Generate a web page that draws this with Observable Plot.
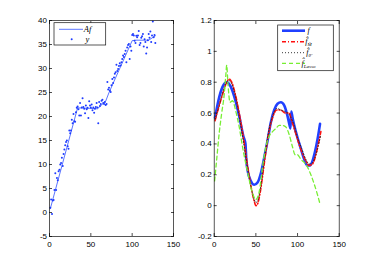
<!DOCTYPE html>
<html><head><meta charset="utf-8">
<script src="https://cdn.jsdelivr.net/npm/d3@7"></script>
<script src="https://cdn.jsdelivr.net/npm/@observablehq/plot@0.6"></script>
<style>
body{margin:0;background:#fff;}
#wrap{position:relative;width:374px;height:266px;overflow:hidden;background:#fff;}
#wrap svg{position:absolute;top:0;}
</style></head><body><div id="wrap"></div>
<script>
// ---------- Left panel data ----------
const xTicks = [0, 50, 100, 150];
const leftYTicks = [-5, 0, 5, 10, 15, 20, 25, 30, 35, 40];
const afX = [1, 34, 48, 58, 68, 72, 100, 104, 120, 128];
const afY = [0.8, 21.8, 21.7, 21.6, 23.2, 25.0, 35.8, 35.9, 35.9, 36.8];
const obsX = [1,2,3,4,5,6,7,8,9,10,11,12,13,14,15,16,17,18,19,20,21,22,23,24,25,26,27,28,29,30,31,32,33,34,35,36,37,38,39,40,41,42,43,44,45,46,47,48,49,50,51,52,53,54,55,56,57,58,59,60,61,62,63,64,65,66,67,68,69,70,71,72,73,74,75,76,77,78,79,80,81,82,83,84,85,86,87,88,89,90,91,92,93,94,95,96,97,98,99,100,101,102,103,104,105,106,107,108,109,110,111,112,113,114,115,116,117,118,119,120,121,122,123,124,125,126,127,128];
const obsY = [1.0,2.7,-0.3,2.5,2.6,4.7,8.2,4.7,7.2,6.7,8.6,8.9,10.0,10.3,11.4,9.7,12.2,13.1,14.0,14.7,15.0,13.8,13.3,17.1,16.5,17.1,19.3,18.6,20.5,19.0,18.9,20.9,21.8,22.1,21.5,20.2,22.8,20.2,21.9,23.8,22.0,21.6,20.7,22.3,21.5,21.8,19.7,23.2,22.3,21.9,22.5,21.3,21.9,20.8,21.6,22.0,22.8,21.9,18.6,23.0,22.2,22.6,23.3,23.5,22.8,22.6,23.0,22.4,22.6,27.2,25.6,26.0,25.4,25.1,26.5,27.8,27.0,28.1,28.9,29.2,30.8,29.5,29.9,30.5,31.1,30.6,31.3,32.0,32.7,32.4,33.0,33.7,31.3,34.4,34.9,35.1,32.0,34.6,33.7,37.0,37.2,36.9,35.8,35.3,36.8,36.5,36.9,37.8,34.9,35.3,36.4,36.7,37.2,34.6,36.1,35.5,33.1,34.4,35.9,37.2,36.4,37.7,35.5,36.9,39.8,36.5,37.0,35.3];

// ---------- Right panel data ----------
const rightYTicks = [-0.2, 0, 0.2, 0.4, 0.6, 0.8, 1, 1.2];
const fX = [1,5,10,15,20,25,30,35,37.5,38.5,40,44,48,52,56,60,64,68,72,76,80,84,88,90.5,91.5,92.5,94,96,100,104,108,112,115,118,121,124,127];
const fY = [0.57,0.68,0.77,0.80,0.77,0.69,0.58,0.45,0.40,0.30,0.23,0.16,0.135,0.15,0.21,0.31,0.42,0.54,0.62,0.66,0.67,0.65,0.58,0.52,0.50,0.61,0.57,0.52,0.44,0.37,0.30,0.26,0.26,0.29,0.35,0.43,0.53];
const fmX = [1,5,10,15,18,21,25,30,35,40,45,48,50,52,55,60,65,70,75,80,85,90,93,96,100,105,110,114,118,122,125,128];
const fmY = [0.55,0.63,0.72,0.80,0.82,0.80,0.73,0.60,0.44,0.26,0.10,0.03,0.0,0.01,0.08,0.27,0.46,0.57,0.62,0.62,0.60,0.60,0.55,0.50,0.43,0.35,0.29,0.26,0.27,0.33,0.40,0.48];
const fthX = fmX;
const fthY = [0.56,0.63,0.73,0.80,0.81,0.79,0.72,0.58,0.42,0.25,0.10,0.04,0.02,0.03,0.10,0.29,0.47,0.58,0.63,0.62,0.61,0.59,0.56,0.52,0.44,0.37,0.30,0.27,0.28,0.33,0.39,0.46];
const lassoX = [0.5,3,6,9,12,14,15,16.5,19,22,26,30,35,40,45,50,54,58,62,66,70,74,78,82,86,90,94,97,100,104,108,112,116,120,124,127];
const lassoY = [0.16,0.30,0.47,0.60,0.72,0.85,0.91,0.79,0.67,0.68,0.61,0.51,0.35,0.22,0.10,0.04,0.09,0.25,0.38,0.45,0.48,0.50,0.52,0.52,0.51,0.46,0.38,0.33,0.33,0.30,0.28,0.25,0.20,0.14,0.07,0.01];

const zip = (xs, ys) => xs.map((x, i) => ({x, y: ys[i]}));
const fmtY = d => String(+(+d).toFixed(1)).replace("−", "-");

function panel({yDomain, yTicks, marks, marginLeft, marginRight}) {
  return Plot.plot({
    width: 187, height: 266,
    marginTop: 20, marginBottom: 30, marginLeft, marginRight,
    style: {fontFamily: "'Liberation Sans', Arial, sans-serif", fontSize: "8px", background: "white", color: "black", overflow: "visible"},
    x: {domain: [0, 150]},
    y: {domain: yDomain},
    marks: [
      ...marks,
      Plot.frame({stroke: "#111", strokeWidth: 0.7}),
      Plot.axisX(xTicks, {anchor: "bottom", tickSize: -3, tickPadding: 7.5, label: null, tickFormat: d => String(d), strokeWidth: 0.7}),
      Plot.axisX(xTicks, {anchor: "top", tickSize: -3, label: null, tickFormat: () => "", strokeWidth: 0.7}),
      Plot.axisY(yTicks, {anchor: "left", tickSize: -3, tickPadding: 5.5, label: null, tickFormat: fmtY, strokeWidth: 0.7}),
      Plot.axisY(yTicks, {anchor: "right", tickSize: -3, label: null, tickFormat: () => "", strokeWidth: 0.7})
    ]
  });
}

const left = panel({
  yDomain: [-5, 40], yTicks: leftYTicks, marginLeft: 49, marginRight: 14,
  marks: [
    Plot.line(zip(afX, afY), {x: "x", y: "y", stroke: "#3050ff", strokeWidth: 0.8}),
    Plot.dot(zip(obsX, obsY), {x: "x", y: "y", r: 1.0, fill: "#1f3cff", stroke: null})
  ]
});
left.style.left = "0px";

const right = panel({
  yDomain: [-0.2, 1.2], yTicks: rightYTicks, marginLeft: 26.7, marginRight: 35.3,
  marks: [
    Plot.line(zip(fX, fY), {x: "x", y: "y", stroke: "#2040ff", strokeWidth: 2.6, curve: "monotone-x"}),
    Plot.line(zip(fmX, fmY), {x: "x", y: "y", stroke: "#ff1010", strokeWidth: 1.6, strokeDasharray: "4,2,1,2", curve: "monotone-x"}),
    Plot.line(zip(fthX, fthY), {x: "x", y: "y", stroke: "#222", strokeWidth: 0.9, strokeDasharray: "1,2", curve: "monotone-x"}),
    Plot.line(zip(lassoX, lassoY), {x: "x", y: "y", stroke: "#77ee33", strokeWidth: 1.3, strokeDasharray: "4,3", curve: "monotone-x"})
  ]
});
right.style.left = "187px";

document.getElementById("wrap").append(left, right);

// ---------- Legends ----------
const serif = "'Liberation Serif', 'Times New Roman', serif";
{
  const g = d3.select(left).append("g").attr("fill", "black");
  g.append("rect").attr("x", 54).attr("y", 22.7).attr("width", 51.7).attr("height", 22.3)
    .attr("fill", "white").attr("stroke", "#111").attr("stroke-width", 0.7);
  g.append("line").attr("x1", 59).attr("x2", 83).attr("y1", 29.3).attr("y2", 29.3)
    .attr("stroke", "#3050ff").attr("stroke-width", 0.8);
  g.append("text").attr("x", 87.5).attr("y", 32.2).attr("fill", "black").attr("font-family", serif).attr("font-style", "italic")
    .attr("font-size", 8.5).text("Af");
  g.append("circle").attr("cx", 71.7).attr("cy", 39.3).attr("r", 1.0).attr("fill", "#1f3cff");
  g.append("text").attr("x", 87.5).attr("y", 41.8).attr("fill", "black").attr("font-family", serif).attr("font-style", "italic")
    .attr("font-size", 8.5).text("y");
}
{
  const g = d3.select(right).append("g").attr("fill", "black");
  g.append("rect").attr("x", 90.7).attr("y", 25).attr("width", 55.6).attr("height", 45.7)
    .attr("fill", "white").attr("stroke", "#111").attr("stroke-width", 0.7);
  const rows = [
    {y: 30.7, stroke: "#2040ff", w: 2.6, dash: null, main: "f", sub: ""},
    {y: 41.7, stroke: "#ff1010", w: 1.6, dash: "4,2,1,2", main: "f\u0302", sub: "M\u0302"},
    {y: 52.7, stroke: "#222", w: 0.9, dash: "1,2", main: "f\u0302", sub: "\u03b8\u0302"},
    {y: 63.3, stroke: "#77ee33", w: 1.3, dash: "4,3", main: "f\u0302", sub: "Lasso"}
  ];
  for (const r of rows) {
    g.append("line").attr("x1", 95).attr("x2", 118).attr("y1", r.y).attr("y2", r.y)
      .attr("stroke", r.stroke).attr("stroke-width", r.w).attr("stroke-dasharray", r.dash);
    const t = g.append("text").attr("x", 121.5).attr("y", r.y + 2.6).attr("fill", "black").attr("font-family", serif)
      .attr("font-style", "italic").attr("font-size", 8);
    t.append("tspan").text(r.main);
    if (r.sub) t.append("tspan").attr("font-size", 5).attr("dy", 2).text(r.sub);
  }
}
</script>
</body></html>
